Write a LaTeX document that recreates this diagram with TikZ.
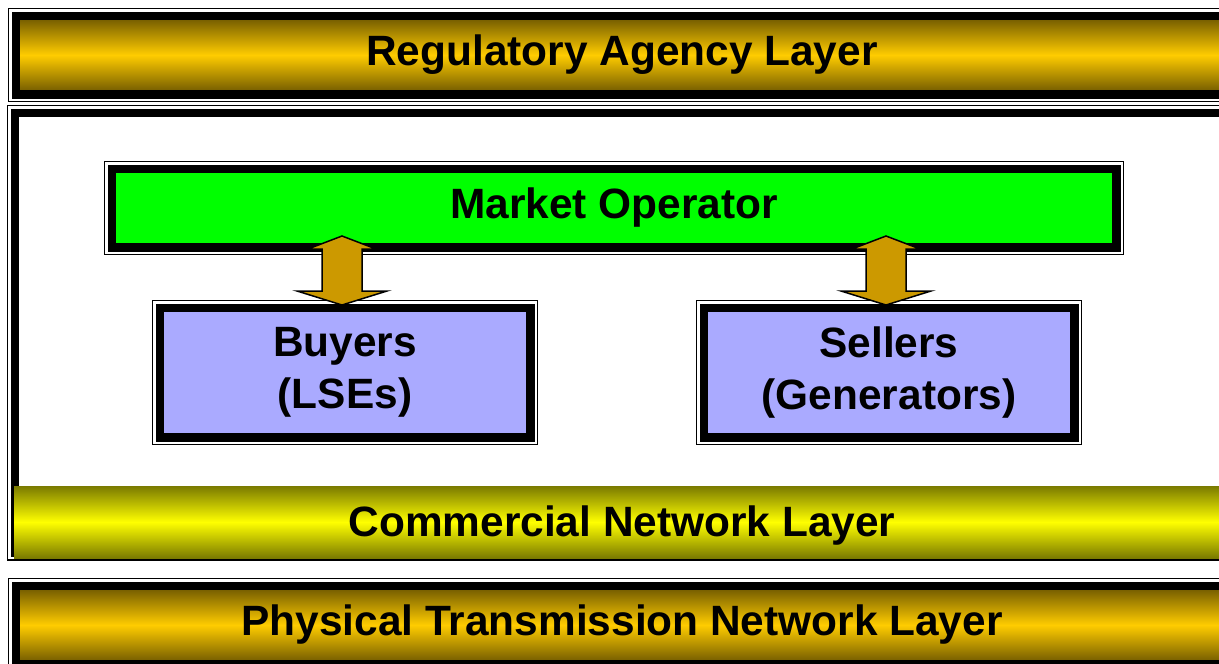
\documentclass[tikz,border=0pt]{standalone}
\usepackage{fontspec}
\setmainfont{Liberation Sans}
\usetikzlibrary{calc}
\definecolor{gold}{HTML}{FFCC00}
\definecolor{golddark}{HTML}{7A6100}
\definecolor{yel}{HTML}{FFFF00}
\definecolor{yeldark}{HTML}{7A7A00}
\definecolor{mogreen}{HTML}{00FF00}
\definecolor{lav}{HTML}{AAAAFF}
\definecolor{arrowgold}{HTML}{CC9900}
\tikzset{
  txt/.style={font=\fontsize{42.4}{52}\selectfont\bfseries, align=center, text=black},
  plainbox/.style={inner sep=0pt, outer sep=0pt},
  goldbar/.style={top color=golddark, bottom color=golddark, middle color=gold},
  yelbar/.style={top color=yeldark, bottom color=yeldark, middle color=yel},
  thickframe/.style={draw=black, line width=8.5pt},
  thinframe/.style={draw=black, line width=1.2pt},
  blockarrow/.style={fill=arrowgold, draw=black, line width=1.5pt, line join=miter},
}
\newcommand\myframe[1]{%
  \draw[thickframe] ([shift={(-4.25pt,4.25pt)}]#1.north west) rectangle ([shift={(4.25pt,-4.25pt)}]#1.south east);
  \draw[thinframe] ([shift={(-11.5pt,11.5pt)}]#1.north west) rectangle ([shift={(11.5pt,-11.5pt)}]#1.south east);}
\begin{document}
\begin{tikzpicture}[x=1pt,y=-1pt]
\useasboundingbox (0,0) rectangle (1219,664);
\clip (0,0) rectangle (1219,664);
\fill[white] (0,0) rectangle (1219,664);
% Regulatory layer
\node[plainbox, goldbar, txt, minimum width=1204pt, minimum height=70pt] (reg) at (622,55) {Regulatory Agency Layer};
\myframe{reg}
% Commercial layer container
\node[plainbox, fill=white, minimum width=1206pt, minimum height=431.5pt] (com) at (622,332.75) {};
\myframe{com}
% Market operator
\node[plainbox, fill=mogreen, txt, minimum width=996pt, minimum height=70pt] (mo) at (614,208) {Market Operator};
\myframe{mo}
% Buyers and sellers
\node[plainbox, fill=lav, txt, minimum width=362pt, minimum height=121pt] (buy) at (345,372.5) {Buyers\\(LSEs)};
\myframe{buy}
\node[plainbox, fill=lav, txt, minimum width=362pt, minimum height=121pt] (sel) at (889,372.5) {Sellers\\(Generators)};
\myframe{sel}
% Block arrows
\coordinate (a1top) at (342,236);
\coordinate (a2top) at (886,236);
\draw[blockarrow] (a1top) -- ++(34,13) -- ++(-14,0) -- ++(0,42) -- ++(25,0) -- ++(-45,14) -- ++(-45,-14) -- ++(25,0) -- ++(0,-42) -- ++(-14,0) -- cycle;
\draw[blockarrow] (a2top) -- ++(34,13) -- ++(-14,0) -- ++(0,42) -- ++(25,0) -- ++(-45,14) -- ++(-45,-14) -- ++(25,0) -- ++(0,-42) -- ++(-14,0) -- cycle;
% Commercial network band
\node[plainbox, yelbar, minimum width=1216pt, minimum height=72pt] (cnl) at (622,522) {};
\node[txt] (cnltext) at (622,526) {Commercial Network Layer};
% Physical layer
\node[plainbox, goldbar, txt, minimum width=1204pt, minimum height=70pt] (phy) at (622,625) {Physical Transmission Network Layer};
\myframe{phy}
\end{tikzpicture}
\end{document}
